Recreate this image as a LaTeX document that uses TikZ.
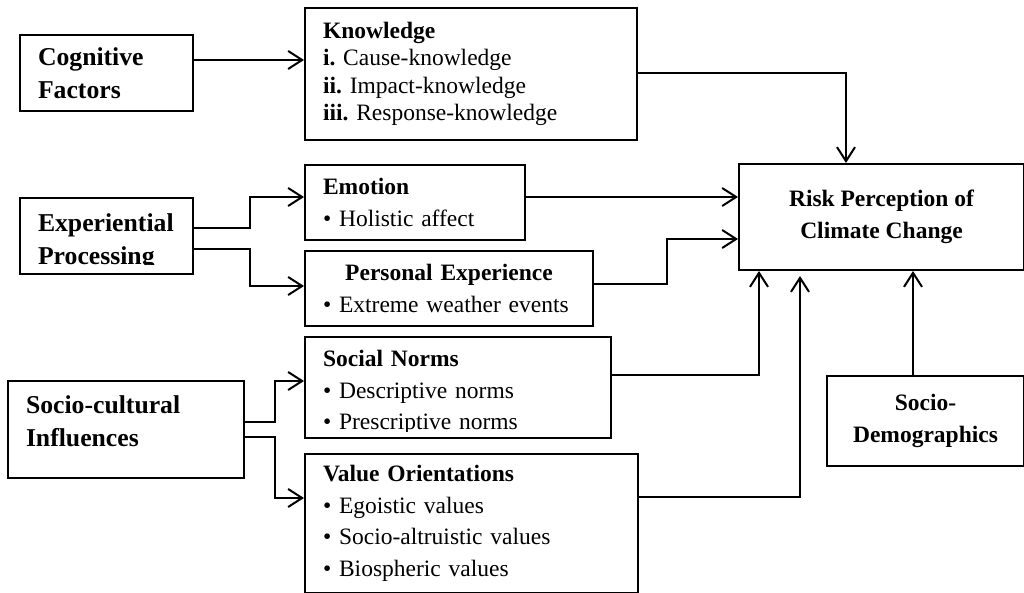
\documentclass[tikz,border=0pt]{standalone}
\usepackage{fontspec}
\setmainfont{Liberation Serif}
\usetikzlibrary{arrows.meta}
\frenchspacing
\newcommand{\boxfont}{\fontsize{23.5}{31.5}\selectfont}
\newcommand{\sidefont}{\fontsize{25.7}{33}\selectfont\bfseries}
\tikzset{
  box/.style={draw, line width=2pt, anchor=north west, align=left,
              inner xsep=18pt, inner ysep=0pt, font=\boxfont},
  sidebox/.style={box, font=\sidefont},
  mainbox/.style={box, align=center, font=\boxfont\bfseries},
  boxtext/.style={align=left, inner xsep=18pt, inner ysep=0pt, font=\boxfont},
  >={Straight Barb[length=14pt,width=18pt]},
}

\begin{document}
\begin{tikzpicture}[x=1pt, y=-1pt, line width=2pt]
\useasboundingbox (0,0) rectangle (1024,593);

% drivers on the left
\node[sidebox, text width=137pt, minimum height=76pt] (cog) at (19,34)
  {Cognitive\\Factors};
\node[sidebox, minimum width=173pt, minimum height=76pt] (exp) at (19,197) {};
\begin{scope}
  \clip (exp.north west) rectangle ([yshift=10pt]exp.south east);
  \node[boxtext, font=\sidefont, text width=137pt] (exptxt)
    at ([yshift=-5.5pt]exp.center) {Experiential\\Processing};
\end{scope}
\node[sidebox, text width=200pt, minimum height=97pt] (soc) at (7,380)
  {Socio-cultural\\Influences\rule[-16pt]{0pt}{16pt}};

% middle column
\node[box, text width=296pt, minimum height=132pt,
      font=\fontsize{23.5}{27.5}\selectfont] (know) at (304,7)
  {\textbf{Knowledge}\\\textbf{i.} Cause-knowledge\\\textbf{ii.} Impact-knowledge\\
   \textbf{iii.} Response-knowledge};
\node[box, text width=184pt, minimum height=75pt] (emo) at (304,164)
  {\textbf{Emotion}\\\textbullet\ Holistic affect};
\node[box, text width=252pt, minimum height=75pt] (pers) at (304,250)
  {\makebox[252pt]{\textbf{Personal Experience}}\\
   \textbullet\ Extreme weather events};
\node[box, minimum width=306pt, minimum height=101pt] (norms) at (304,336) {};
\begin{scope}
  \clip (norms.north west) rectangle ([yshift=8pt]norms.south east);
  \node[boxtext, text width=270pt] (normstxt) at ([yshift=-5pt]norms.center)
    {\textbf{Social Norms}\\\textbullet\ Descriptive norms\\
     \textbullet\ Prescriptive norms};
\end{scope}
\node[box, text width=297pt, minimum height=139pt] (val) at (304,453)
  {\textbf{Value Orientations}\\\textbullet\ Egoistic values\\
   \textbullet\ Socio-altruistic values\\\textbullet\ Biospheric values};

% outcome
\node[mainbox, minimum width=285pt, minimum height=106pt] (risk) at (738,163)
  {Risk Perception of\\Climate Change};
\node[mainbox, minimum width=197pt, minimum height=90pt] (demo) at (826,375)
  {Socio-\\Demographics};

% connectors
\draw[->] (cog.east|-0,60) -- (know.west|-0,60);
\draw[->] (exp.east|-0,228) -- ++(56,0) |- (emo.west|-0,197);
\draw[->] (exp.east|-0,249) -- ++(56,0) |- (pers.west|-0,286);
\draw[->] (soc.east|-0,422) -- ++(30,0) |- (norms.west|-0,381);
\draw[->] (soc.east|-0,437) -- ++(30,0) |- (val.west|-0,498);
\draw[->] (know.east|-0,73) -| (846,0|-risk.north);
\draw[->] (emo.east|-0,197) -- (risk.west|-0,197);
\draw[->] (pers.east|-0,284) -- ++(73,0) |- (risk.west|-0,239);
\draw[->] (norms.east|-0,375) -| (759,0|-risk.south);
\draw[->, shorten >=5pt] (val.east|-0,497) -| (800,0|-risk.south);
\draw[->] (913,0|-demo.north) -- (913,0|-risk.south);
\end{tikzpicture}
\end{document}
